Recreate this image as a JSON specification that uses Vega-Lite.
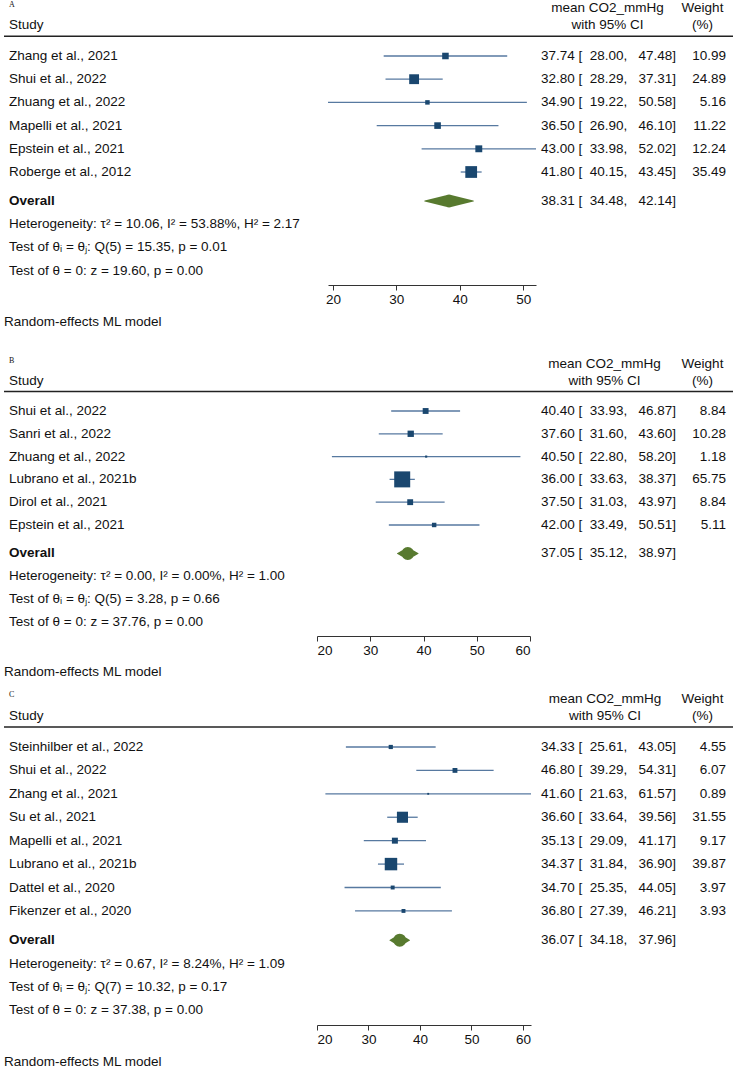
{
  "$schema": "https://vega.github.io/schema/vega-lite/v6.json",
  "padding": {"left": 3, "top": 0, "right": 0, "bottom": 0},
  "spacing": 12,
  "config": {
    "view": {"stroke": null},
    "text": {"font": "Liberation Sans", "fontSize": 13.5, "color": "#111111", "baseline": "middle"},
    "axis": {"labelFont": "Liberation Sans", "labelFontSize": 13.5, "labelColor": "#111111", "domainColor": "#333333", "tickColor": "#333333", "tickSize": 5, "grid": false, "title": null, "labelPadding": 2}
  },
  "datasets": {
    "A": [
      {"study": "Zhang et al., 2021", "est": 37.74, "lo": 28.00, "hi": 47.48, "w": 10.99, "ci": "37.74 [\u00a0 28.00,\u00a0\u00a0 47.48]", "row": 1},
      {"study": "Shui et al., 2022", "est": 32.80, "lo": 28.29, "hi": 37.31, "w": 24.89, "ci": "32.80 [\u00a0 28.29,\u00a0\u00a0 37.31]", "row": 2},
      {"study": "Zhuang et al., 2022", "est": 34.90, "lo": 19.22, "hi": 50.58, "w": 5.16, "ci": "34.90 [\u00a0 19.22,\u00a0\u00a0 50.58]", "row": 3},
      {"study": "Mapelli et al., 2021", "est": 36.50, "lo": 26.90, "hi": 46.10, "w": 11.22, "ci": "36.50 [\u00a0 26.90,\u00a0\u00a0 46.10]", "row": 4},
      {"study": "Epstein et al., 2021", "est": 43.00, "lo": 33.98, "hi": 52.02, "w": 12.24, "ci": "43.00 [\u00a0 33.98,\u00a0\u00a0 52.02]", "row": 5},
      {"study": "Roberge et al., 2012", "est": 41.80, "lo": 40.15, "hi": 43.45, "w": 35.49, "ci": "41.80 [\u00a0 40.15,\u00a0\u00a0 43.45]", "row": 6}
    ],
    "A_overall": [
      {"label": "Overall", "est": 38.31, "lo": 34.48, "hi": 42.14, "ci": "38.31 [\u00a0 34.48,\u00a0\u00a0 42.14]", "row": 7.25}
    ],
    "A_text": [
      {"col": "all", "kind": "rule", "text": "", "row": 0.15},
      {"col": "study", "kind": "tag", "text": "A", "row": -1.2},
      {"col": "study", "kind": "hdr", "text": "Study", "row": -0.33},
      {"col": "ci", "kind": "hdr", "text": "mean CO2_mmHg", "row": -1.05},
      {"col": "ci", "kind": "hdr", "text": "with 95% CI", "row": -0.33},
      {"col": "wt", "kind": "hdr", "text": "Weight", "row": -1.05},
      {"col": "wt", "kind": "hdr", "text": "(%)", "row": -0.33},
      {"col": "study", "kind": "note", "text": "Heterogeneity: τ² = 10.06, I² = 53.88%, H² = 2.17", "row": 8.25},
      {"col": "study", "kind": "note", "text": "Test of θᵢ = θⱼ: Q(5) = 15.35, p = 0.01", "row": 9.25},
      {"col": "study", "kind": "note", "text": "Test of θ = 0: z = 19.60, p = 0.00", "row": 10.25},
      {"col": "study", "kind": "model", "text": "Random-effects ML model", "row": 12.45}
    ],
    "B": [
      {"study": "Shui et al., 2022", "est": 40.40, "lo": 33.93, "hi": 46.87, "w": 8.84, "ci": "40.40 [\u00a0 33.93,\u00a0\u00a0 46.87]", "row": 1},
      {"study": "Sanri et al., 2022", "est": 37.60, "lo": 31.60, "hi": 43.60, "w": 10.28, "ci": "37.60 [\u00a0 31.60,\u00a0\u00a0 43.60]", "row": 2},
      {"study": "Zhuang et al., 2022", "est": 40.50, "lo": 22.80, "hi": 58.20, "w": 1.18, "ci": "40.50 [\u00a0 22.80,\u00a0\u00a0 58.20]", "row": 3},
      {"study": "Lubrano et al., 2021b", "est": 36.00, "lo": 33.63, "hi": 38.37, "w": 65.75, "ci": "36.00 [\u00a0 33.63,\u00a0\u00a0 38.37]", "row": 4},
      {"study": "Dirol et al., 2021", "est": 37.50, "lo": 31.03, "hi": 43.97, "w": 8.84, "ci": "37.50 [\u00a0 31.03,\u00a0\u00a0 43.97]", "row": 5},
      {"study": "Epstein et al., 2021", "est": 42.00, "lo": 33.49, "hi": 50.51, "w": 5.11, "ci": "42.00 [\u00a0 33.49,\u00a0\u00a0 50.51]", "row": 6}
    ],
    "B_overall": [
      {"label": "Overall", "est": 37.05, "lo": 35.12, "hi": 38.97, "ci": "37.05 [\u00a0 35.12,\u00a0\u00a0 38.97]", "row": 7.25}
    ],
    "B_text": [
      {"col": "all", "kind": "rule", "text": "", "row": 0.15},
      {"col": "study", "kind": "tag", "text": "B", "row": -1.2},
      {"col": "study", "kind": "hdr", "text": "Study", "row": -0.33},
      {"col": "ci", "kind": "hdr", "text": "mean CO2_mmHg", "row": -1.05},
      {"col": "ci", "kind": "hdr", "text": "with 95% CI", "row": -0.33},
      {"col": "wt", "kind": "hdr", "text": "Weight", "row": -1.05},
      {"col": "wt", "kind": "hdr", "text": "(%)", "row": -0.33},
      {"col": "study", "kind": "note", "text": "Heterogeneity: τ² = 0.00, I² = 0.00%, H² = 1.00", "row": 8.25},
      {"col": "study", "kind": "note", "text": "Test of θᵢ = θⱼ: Q(5) = 3.28, p = 0.66", "row": 9.25},
      {"col": "study", "kind": "note", "text": "Test of θ = 0: z = 37.76, p = 0.00", "row": 10.25},
      {"col": "study", "kind": "model", "text": "Random-effects ML model", "row": 12.45}
    ],
    "C": [
      {"study": "Steinhilber et al., 2022", "est": 34.33, "lo": 25.61, "hi": 43.05, "w": 4.55, "ci": "34.33 [\u00a0 25.61,\u00a0\u00a0 43.05]", "row": 1},
      {"study": "Shui et al., 2022", "est": 46.80, "lo": 39.29, "hi": 54.31, "w": 6.07, "ci": "46.80 [\u00a0 39.29,\u00a0\u00a0 54.31]", "row": 2},
      {"study": "Zhang et al., 2021", "est": 41.60, "lo": 21.63, "hi": 61.57, "w": 0.89, "ci": "41.60 [\u00a0 21.63,\u00a0\u00a0 61.57]", "row": 3},
      {"study": "Su et al., 2021", "est": 36.60, "lo": 33.64, "hi": 39.56, "w": 31.55, "ci": "36.60 [\u00a0 33.64,\u00a0\u00a0 39.56]", "row": 4},
      {"study": "Mapelli et al., 2021", "est": 35.13, "lo": 29.09, "hi": 41.17, "w": 9.17, "ci": "35.13 [\u00a0 29.09,\u00a0\u00a0 41.17]", "row": 5},
      {"study": "Lubrano et al., 2021b", "est": 34.37, "lo": 31.84, "hi": 36.90, "w": 39.87, "ci": "34.37 [\u00a0 31.84,\u00a0\u00a0 36.90]", "row": 6},
      {"study": "Dattel et al., 2020", "est": 34.70, "lo": 25.35, "hi": 44.05, "w": 3.97, "ci": "34.70 [\u00a0 25.35,\u00a0\u00a0 44.05]", "row": 7},
      {"study": "Fikenzer et al., 2020", "est": 36.80, "lo": 27.39, "hi": 46.21, "w": 3.93, "ci": "36.80 [\u00a0 27.39,\u00a0\u00a0 46.21]", "row": 8}
    ],
    "C_overall": [
      {"label": "Overall", "est": 36.07, "lo": 34.18, "hi": 37.96, "ci": "36.07 [\u00a0 34.18,\u00a0\u00a0 37.96]", "row": 9.25}
    ],
    "C_text": [
      {"col": "all", "kind": "rule", "text": "", "row": 0.15},
      {"col": "study", "kind": "tag", "text": "C", "row": -1.2},
      {"col": "study", "kind": "hdr", "text": "Study", "row": -0.33},
      {"col": "ci", "kind": "hdr", "text": "mean CO2_mmHg", "row": -1.05},
      {"col": "ci", "kind": "hdr", "text": "with 95% CI", "row": -0.33},
      {"col": "wt", "kind": "hdr", "text": "Weight", "row": -1.05},
      {"col": "wt", "kind": "hdr", "text": "(%)", "row": -0.33},
      {"col": "study", "kind": "note", "text": "Heterogeneity: τ² = 0.67, I² = 8.24%, H² = 1.09", "row": 10.25},
      {"col": "study", "kind": "note", "text": "Test of θᵢ = θⱼ: Q(7) = 10.32, p = 0.17", "row": 11.25},
      {"col": "study", "kind": "note", "text": "Test of θ = 0: z = 37.38, p = 0.00", "row": 12.25},
      {"col": "study", "kind": "model", "text": "Random-effects ML model", "row": 14.45}
    ]
  },
  "vconcat": [
    {
      "bounds": "flush",
      "spacing": 0,
      "hconcat": [
        {
          "width": 324, "height": 284,
          "encoding": {"y": {"field": "row", "type": "quantitative", "scale": {"domain": [-1.37, 10.87], "reverse": true, "nice": false, "zero": false}, "axis": null}},
          "layer": [
            {"data": {"name": "A_text"}, "transform": [{"filter": "datum.kind === 'rule'"}], "mark": {"type": "rule", "color": "#222222", "strokeWidth": 1.5}, "encoding": {}},
            {"data": {"name": "A_text"}, "transform": [{"filter": "datum.col === 'study' && (datum.kind === 'hdr' || datum.kind === 'note')"}], "mark": {"type": "text", "align": "left", "dx": 5}, "encoding": {"x": {"value": 0}, "text": {"field": "text"}}},
            {"data": {"name": "A_text"}, "transform": [{"filter": "datum.kind === 'tag'"}], "mark": {"type": "text", "align": "left", "dx": 5, "font": "Liberation Serif", "fontSize": 8}, "encoding": {"x": {"value": 0}, "text": {"field": "text"}}},
            {"data": {"name": "A_text"}, "transform": [{"filter": "datum.kind === 'model'"}], "mark": {"type": "text", "align": "left", "dx": 0}, "encoding": {"x": {"value": 0}, "text": {"field": "text"}}},
            {"data": {"name": "A"}, "mark": {"type": "text", "align": "left", "dx": 5}, "encoding": {"x": {"value": 0}, "text": {"field": "study"}}},
            {"data": {"name": "A_overall"}, "mark": {"type": "text", "align": "left", "dx": 5, "fontWeight": "bold"}, "encoding": {"x": {"value": 0}, "text": {"field": "label"}}}
          ]
        },
        {
          "width": 208, "height": 284,
          "encoding": {"y": {"field": "row", "type": "quantitative", "scale": {"domain": [-1.37, 10.87], "reverse": true, "nice": false, "zero": false}, "axis": null}},
          "layer": [
            {"data": {"name": "A_text"}, "transform": [{"filter": "datum.kind === 'rule'"}], "mark": {"type": "rule", "color": "#222222", "strokeWidth": 1.5}, "encoding": {}},
            {"data": {"name": "A"}, "mark": {"type": "rule", "color": "#5779a0", "strokeWidth": 1.3}, "encoding": {"x": {"field": "lo", "type": "quantitative", "scale": {"domain": [19.22, 52.02], "nice": false, "zero": false}, "axis": {"values": [20, 30, 40, 50], "title": null}}, "x2": {"field": "hi"}}},
            {"data": {"name": "A"}, "mark": {"type": "square", "filled": true, "color": "#1a476f", "opacity": 1}, "encoding": {"x": {"field": "est", "type": "quantitative"}, "size": {"field": "w", "type": "quantitative", "scale": {"domain": [0, 35.49], "range": [0, 256]}, "legend": null}}},
            {"data": {"name": "A_overall"}, "transform": [{"fold": ["lo", "est", "hi"], "as": ["pt", "xv"]}], "mark": {"type": "trail", "color": "#587a2f"}, "encoding": {"x": {"field": "xv", "type": "quantitative"}, "size": {"condition": {"test": "datum.pt === 'est'", "value": 13}, "value": 0}}}
          ]
        },
        {
          "width": 143, "height": 284,
          "encoding": {"y": {"field": "row", "type": "quantitative", "scale": {"domain": [-1.37, 10.87], "reverse": true, "nice": false, "zero": false}, "axis": null}},
          "layer": [
            {"data": {"name": "A_text"}, "transform": [{"filter": "datum.kind === 'rule'"}], "mark": {"type": "rule", "color": "#222222", "strokeWidth": 1.5}, "encoding": {}},
            {"data": {"name": "A_text"}, "transform": [{"filter": "datum.col === 'ci'"}], "mark": {"type": "text", "align": "center"}, "encoding": {"text": {"field": "text"}}},
            {"data": {"name": "A"}, "mark": {"type": "text", "align": "right", "dx": -3}, "encoding": {"x": {"value": "width"}, "text": {"field": "ci"}}},
            {"data": {"name": "A_overall"}, "mark": {"type": "text", "align": "right", "dx": -3}, "encoding": {"x": {"value": "width"}, "text": {"field": "ci"}}}
          ]
        },
        {
          "width": 55, "height": 284,
          "encoding": {"y": {"field": "row", "type": "quantitative", "scale": {"domain": [-1.37, 10.87], "reverse": true, "nice": false, "zero": false}, "axis": null}},
          "layer": [
            {"data": {"name": "A_text"}, "transform": [{"filter": "datum.kind === 'rule'"}], "mark": {"type": "rule", "color": "#222222", "strokeWidth": 1.5}, "encoding": {}},
            {"data": {"name": "A_text"}, "transform": [{"filter": "datum.col === 'wt'"}], "mark": {"type": "text", "align": "center", "dx": -4}, "encoding": {"text": {"field": "text"}}},
            {"data": {"name": "A"}, "mark": {"type": "text", "align": "right", "dx": -8}, "encoding": {"x": {"value": "width"}, "text": {"field": "w", "type": "quantitative", "format": ".2f"}}}
          ]
        }
      ]
    },
    {
      "bounds": "flush",
      "spacing": 0,
      "hconcat": [
        {
          "width": 313, "height": 295,
          "encoding": {"y": {"field": "row", "type": "quantitative", "scale": {"domain": [-2.07, 10.87], "reverse": true, "nice": false, "zero": false}, "axis": null}},
          "layer": [
            {"data": {"name": "B_text"}, "transform": [{"filter": "datum.kind === 'rule'"}], "mark": {"type": "rule", "color": "#222222", "strokeWidth": 1.5}, "encoding": {}},
            {"data": {"name": "B_text"}, "transform": [{"filter": "datum.col === 'study' && (datum.kind === 'hdr' || datum.kind === 'note')"}], "mark": {"type": "text", "align": "left", "dx": 5}, "encoding": {"x": {"value": 0}, "text": {"field": "text"}}},
            {"data": {"name": "B_text"}, "transform": [{"filter": "datum.kind === 'tag'"}], "mark": {"type": "text", "align": "left", "dx": 5, "font": "Liberation Serif", "fontSize": 8}, "encoding": {"x": {"value": 0}, "text": {"field": "text"}}},
            {"data": {"name": "B_text"}, "transform": [{"filter": "datum.kind === 'model'"}], "mark": {"type": "text", "align": "left", "dx": 0}, "encoding": {"x": {"value": 0}, "text": {"field": "text"}}},
            {"data": {"name": "B"}, "mark": {"type": "text", "align": "left", "dx": 5}, "encoding": {"x": {"value": 0}, "text": {"field": "study"}}},
            {"data": {"name": "B_overall"}, "mark": {"type": "text", "align": "left", "dx": 5, "fontWeight": "bold"}, "encoding": {"x": {"value": 0}, "text": {"field": "label"}}}
          ]
        },
        {
          "width": 213, "height": 295,
          "encoding": {"y": {"field": "row", "type": "quantitative", "scale": {"domain": [-2.07, 10.87], "reverse": true, "nice": false, "zero": false}, "axis": null}},
          "layer": [
            {"data": {"name": "B_text"}, "transform": [{"filter": "datum.kind === 'rule'"}], "mark": {"type": "rule", "color": "#222222", "strokeWidth": 1.5}, "encoding": {}},
            {"data": {"name": "B"}, "mark": {"type": "rule", "color": "#5779a0", "strokeWidth": 1.3}, "encoding": {"x": {"field": "lo", "type": "quantitative", "scale": {"domain": [20, 60], "nice": false, "zero": false}, "axis": {"values": [20, 30, 40, 50, 60], "title": null}}, "x2": {"field": "hi"}}},
            {"data": {"name": "B"}, "mark": {"type": "square", "filled": true, "color": "#1a476f", "opacity": 1}, "encoding": {"x": {"field": "est", "type": "quantitative"}, "size": {"field": "w", "type": "quantitative", "scale": {"domain": [0, 65.75], "range": [0, 272]}, "legend": null}}},
            {"data": {"name": "B_overall"}, "transform": [{"fold": ["lo", "est", "hi"], "as": ["pt", "xv"]}], "mark": {"type": "trail", "color": "#587a2f"}, "encoding": {"x": {"field": "xv", "type": "quantitative"}, "size": {"condition": {"test": "datum.pt === 'est'", "value": 13}, "value": 0}}}
          ]
        },
        {
          "width": 149, "height": 295,
          "encoding": {"y": {"field": "row", "type": "quantitative", "scale": {"domain": [-2.07, 10.87], "reverse": true, "nice": false, "zero": false}, "axis": null}},
          "layer": [
            {"data": {"name": "B_text"}, "transform": [{"filter": "datum.kind === 'rule'"}], "mark": {"type": "rule", "color": "#222222", "strokeWidth": 1.5}, "encoding": {}},
            {"data": {"name": "B_text"}, "transform": [{"filter": "datum.col === 'ci'"}], "mark": {"type": "text", "align": "center"}, "encoding": {"text": {"field": "text"}}},
            {"data": {"name": "B"}, "mark": {"type": "text", "align": "right", "dx": -3}, "encoding": {"x": {"value": "width"}, "text": {"field": "ci"}}},
            {"data": {"name": "B_overall"}, "mark": {"type": "text", "align": "right", "dx": -3}, "encoding": {"x": {"value": "width"}, "text": {"field": "ci"}}}
          ]
        },
        {
          "width": 55, "height": 295,
          "encoding": {"y": {"field": "row", "type": "quantitative", "scale": {"domain": [-2.07, 10.87], "reverse": true, "nice": false, "zero": false}, "axis": null}},
          "layer": [
            {"data": {"name": "B_text"}, "transform": [{"filter": "datum.kind === 'rule'"}], "mark": {"type": "rule", "color": "#222222", "strokeWidth": 1.5}, "encoding": {}},
            {"data": {"name": "B_text"}, "transform": [{"filter": "datum.col === 'wt'"}], "mark": {"type": "text", "align": "center", "dx": -4}, "encoding": {"text": {"field": "text"}}},
            {"data": {"name": "B"}, "mark": {"type": "text", "align": "right", "dx": -8}, "encoding": {"x": {"value": "width"}, "text": {"field": "w", "type": "quantitative", "format": ".2f"}}}
          ]
        }
      ]
    },
    {
      "bounds": "flush",
      "spacing": 0,
      "hconcat": [
        {
          "width": 313, "height": 334,
          "encoding": {"y": {"field": "row", "type": "quantitative", "scale": {"domain": [-1.39, 12.87], "reverse": true, "nice": false, "zero": false}, "axis": null}},
          "layer": [
            {"data": {"name": "C_text"}, "transform": [{"filter": "datum.kind === 'rule'"}], "mark": {"type": "rule", "color": "#222222", "strokeWidth": 1.5}, "encoding": {}},
            {"data": {"name": "C_text"}, "transform": [{"filter": "datum.col === 'study' && (datum.kind === 'hdr' || datum.kind === 'note')"}], "mark": {"type": "text", "align": "left", "dx": 5}, "encoding": {"x": {"value": 0}, "text": {"field": "text"}}},
            {"data": {"name": "C_text"}, "transform": [{"filter": "datum.kind === 'tag'"}], "mark": {"type": "text", "align": "left", "dx": 5, "font": "Liberation Serif", "fontSize": 8}, "encoding": {"x": {"value": 0}, "text": {"field": "text"}}},
            {"data": {"name": "C_text"}, "transform": [{"filter": "datum.kind === 'model'"}], "mark": {"type": "text", "align": "left", "dx": 0}, "encoding": {"x": {"value": 0}, "text": {"field": "text"}}},
            {"data": {"name": "C"}, "mark": {"type": "text", "align": "left", "dx": 5}, "encoding": {"x": {"value": 0}, "text": {"field": "study"}}},
            {"data": {"name": "C_overall"}, "mark": {"type": "text", "align": "left", "dx": 5, "fontWeight": "bold"}, "encoding": {"x": {"value": 0}, "text": {"field": "label"}}}
          ]
        },
        {
          "width": 214, "height": 334,
          "encoding": {"y": {"field": "row", "type": "quantitative", "scale": {"domain": [-1.39, 12.87], "reverse": true, "nice": false, "zero": false}, "axis": null}},
          "layer": [
            {"data": {"name": "C_text"}, "transform": [{"filter": "datum.kind === 'rule'"}], "mark": {"type": "rule", "color": "#222222", "strokeWidth": 1.5}, "encoding": {}},
            {"data": {"name": "C"}, "mark": {"type": "rule", "color": "#5779a0", "strokeWidth": 1.3}, "encoding": {"x": {"field": "lo", "type": "quantitative", "scale": {"domain": [20, 61.57], "nice": false, "zero": false}, "axis": {"values": [20, 30, 40, 50, 60], "title": null}}, "x2": {"field": "hi"}}},
            {"data": {"name": "C"}, "mark": {"type": "square", "filled": true, "color": "#1a476f", "opacity": 1}, "encoding": {"x": {"field": "est", "type": "quantitative"}, "size": {"field": "w", "type": "quantitative", "scale": {"domain": [0, 39.87], "range": [0, 256]}, "legend": null}}},
            {"data": {"name": "C_overall"}, "transform": [{"fold": ["lo", "est", "hi"], "as": ["pt", "xv"]}], "mark": {"type": "trail", "color": "#587a2f"}, "encoding": {"x": {"field": "xv", "type": "quantitative"}, "size": {"condition": {"test": "datum.pt === 'est'", "value": 13}, "value": 0}}}
          ]
        },
        {
          "width": 148, "height": 334,
          "encoding": {"y": {"field": "row", "type": "quantitative", "scale": {"domain": [-1.39, 12.87], "reverse": true, "nice": false, "zero": false}, "axis": null}},
          "layer": [
            {"data": {"name": "C_text"}, "transform": [{"filter": "datum.kind === 'rule'"}], "mark": {"type": "rule", "color": "#222222", "strokeWidth": 1.5}, "encoding": {}},
            {"data": {"name": "C_text"}, "transform": [{"filter": "datum.col === 'ci'"}], "mark": {"type": "text", "align": "center"}, "encoding": {"text": {"field": "text"}}},
            {"data": {"name": "C"}, "mark": {"type": "text", "align": "right", "dx": -3}, "encoding": {"x": {"value": "width"}, "text": {"field": "ci"}}},
            {"data": {"name": "C_overall"}, "mark": {"type": "text", "align": "right", "dx": -3}, "encoding": {"x": {"value": "width"}, "text": {"field": "ci"}}}
          ]
        },
        {
          "width": 55, "height": 334,
          "encoding": {"y": {"field": "row", "type": "quantitative", "scale": {"domain": [-1.39, 12.87], "reverse": true, "nice": false, "zero": false}, "axis": null}},
          "layer": [
            {"data": {"name": "C_text"}, "transform": [{"filter": "datum.kind === 'rule'"}], "mark": {"type": "rule", "color": "#222222", "strokeWidth": 1.5}, "encoding": {}},
            {"data": {"name": "C_text"}, "transform": [{"filter": "datum.col === 'wt'"}], "mark": {"type": "text", "align": "center", "dx": -4}, "encoding": {"text": {"field": "text"}}},
            {"data": {"name": "C"}, "mark": {"type": "text", "align": "right", "dx": -8}, "encoding": {"x": {"value": "width"}, "text": {"field": "w", "type": "quantitative", "format": ".2f"}}}
          ]
        }
      ]
    }
  ]
}
